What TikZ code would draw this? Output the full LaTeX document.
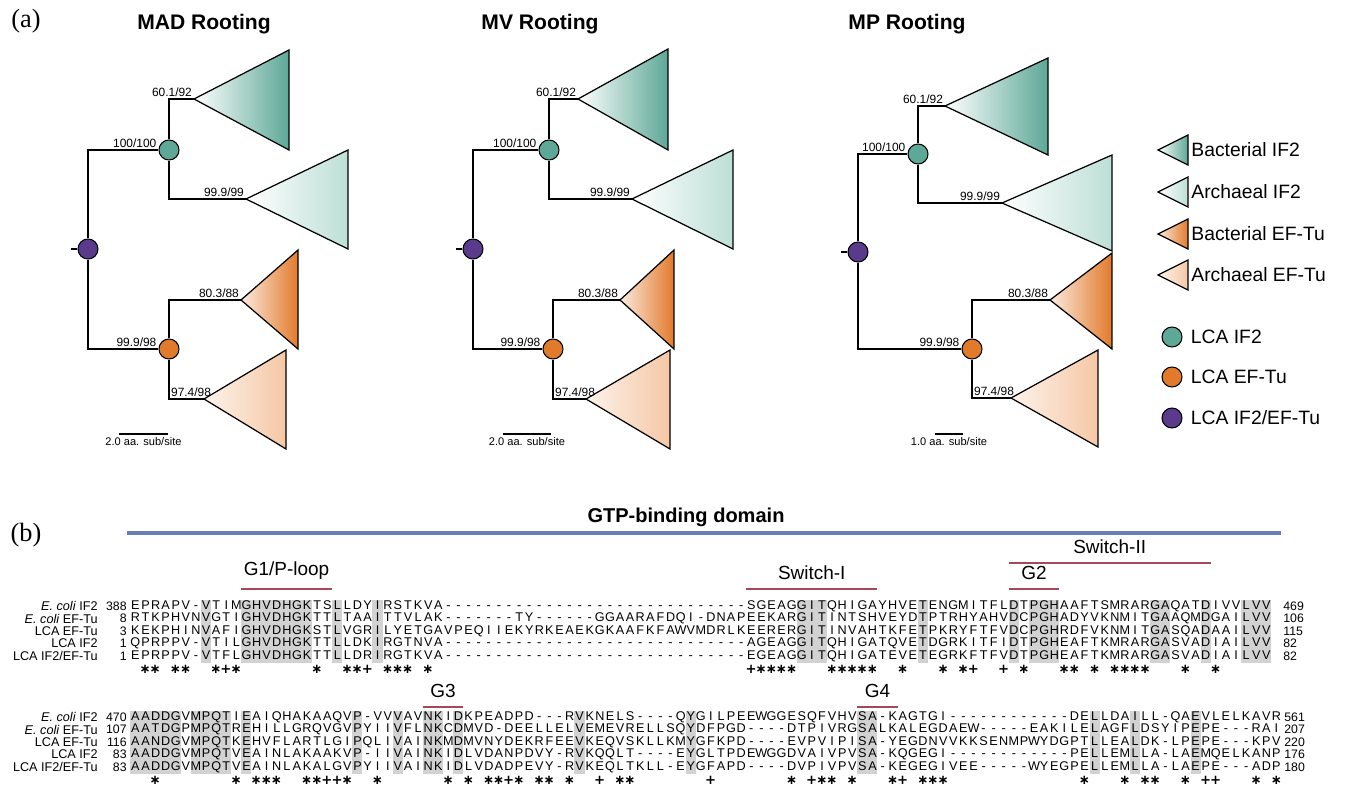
\documentclass[tikz,border=0pt]{standalone}
\usepackage{fontspec}
\setmainfont{Liberation Sans}
\newfontfamily\panelfont{Liberation Serif}
\newfontfamily\markfont{DejaVu Sans}
\usetikzlibrary{positioning}

\definecolor{bacif}{HTML}{5DA897}
\definecolor{arcif}{HTML}{BDDFD6}
\definecolor{bacef}{HTML}{E27A2C}
\definecolor{bacefl}{HTML}{FBEBDF}
\definecolor{arcef}{HTML}{F5C7A5}
\definecolor{arcefl}{HTML}{FDF3EB}
\definecolor{lcapurple}{HTML}{5A3B8B}
\definecolor{domblue}{HTML}{6A7DB4}
\definecolor{motifred}{HTML}{A8465A}
\definecolor{consgray}{HTML}{D2D2D2}

% one residue per fixed-width column
\makeatletter
\newcommand\colw{0.202cm}
\def\seqrow#1{\expandafter\sq@go#1\relax}
\def\sq@go#1{\ifx\relax#1\else\makebox[\colw]{#1}\expandafter\sq@go\fi}
\makeatother

\tikzset{
  branch/.style={line width=0.7pt},
  lcanode/.style={circle, draw, line width=0.6pt, minimum size=0.4cm, inner sep=0pt},
  suplab/.style={font=\fontsize{6.8}{8}\selectfont, inner sep=1pt},
  clade/.style={draw, line width=0.7pt},
  bacifcl/.style={clade, left color=white, right color=bacif},
  arcifcl/.style={clade, left color=white, right color=arcif},
  bacefcl/.style={clade, left color=bacefl, right color=bacef},
  arcefcl/.style={clade, left color=arcefl, right color=arcef},
  ttl/.style={font=\bfseries\fontsize{12}{14}\selectfont},
  panel/.style={font=\panelfont\fontsize{15}{17}\selectfont},
  sbar/.style={font=\fontsize{6.3}{7}\selectfont, inner sep=1pt, below},
  legtxt/.style={font=\fontsize{11}{13}\selectfont, anchor=west, inner sep=0pt},
  seqlab/.style={font=\fontsize{7.2}{8}\selectfont, anchor=east, inner sep=0pt},
  seqnum/.style={font=\fontsize{7}{8}\selectfont, anchor=east, inner sep=0pt},
  endnum/.style={font=\fontsize{7}{8}\selectfont, anchor=west, inner sep=0pt},
  seqtxt/.style={font=\fontsize{7.2}{8}\selectfont, anchor=west, inner sep=0pt},
  mk/.style={font=\fontsize{7.5}{8}\selectfont\markfont\bfseries, inner sep=0pt},
  motif/.style={motifred, line width=1.7pt},
  motiflab/.style={font=\fontsize{10.8}{12}\selectfont, inner sep=0pt, above=5pt},
}

\begin{document}
\begin{tikzpicture}[x=0.02cm, y=-0.02cm]
\useasboundingbox (0,0) rectangle (1346,804);

% ---------- (a) trees ----------
\node[panel] (pa) at (26,21) {(a)};
\node[ttl] (t1) at (204,24) {MAD Rooting};
\node[ttl] (t2) at (540,24) {MV Rooting};
\node[ttl] (t3) at (907,24) {MP Rooting};

% MAD
\coordinate (madbi) at (194,99);
\coordinate (madai) at (246,199);
\coordinate (madbe) at (241,300);
\coordinate (madae) at (204,399);
\path[bacifcl] (madbi) -- (289,50) -- (289,150) -- cycle;
\path[arcifcl] (madai) -- (348,150) -- (348,249) -- cycle;
\path[bacefcl] (madbe) -- (298,250) -- (298,349) -- cycle;
\path[arcefcl] (madae) -- (286,350) -- (286,449) -- cycle;
\node[lcanode, fill=lcapurple] (madroot) at (88,249) {};
\node[lcanode, fill=bacif] (madif) at (169,150) {};
\node[lcanode, fill=bacef] (madef) at (169,349) {};
\draw[branch] (madroot) |- (madif);
\draw[branch] (madroot) |- (madef);
\draw[branch] (madif) |- (madbi);
\draw[branch] (madif) |- (madai);
\draw[branch] (madef) |- (madbe);
\draw[branch] (madef) |- (madae);
\draw[branch] (madroot.west) -- ++(-6,0);
\node[suplab, above left] (mads0) at (madif.west) {100/100};
\node[suplab, above left] (mads1) at (madbi) {60.1/92};
\node[suplab, above left] (mads2) at (madai) {99.9/99};
\node[suplab, above left] (mads3) at (madef.west) {99.9/98};
\node[suplab, above left] (mads4) at (madbe) {80.3/88};
\node[suplab, above right] (mads5) at (169,399) {97.4/98};
\coordinate (madsb1) at (119,434);
\coordinate (madsb2) at (168,434);
\draw[branch] (madsb1) -- (madsb2);
\node[sbar] (madsbt) at (143.5,435) {2.0 aa. sub/site};

% MV
\coordinate (mvbi) at (578,99);
\coordinate (mvai) at (632,199);
\coordinate (mvbe) at (620,300);
\coordinate (mvae) at (586,399);
\path[bacifcl] (mvbi) -- (668,49) -- (668,150) -- cycle;
\path[arcifcl] (mvai) -- (733,150) -- (733,249) -- cycle;
\path[bacefcl] (mvbe) -- (674,250) -- (674,349) -- cycle;
\path[arcefcl] (mvae) -- (670,350) -- (670,449) -- cycle;
\node[lcanode, fill=lcapurple] (mvroot) at (473,249) {};
\node[lcanode, fill=bacif] (mvif) at (549,150) {};
\node[lcanode, fill=bacef] (mvef) at (553,349) {};
\draw[branch] (mvroot) |- (mvif);
\draw[branch] (mvroot) |- (mvef);
\draw[branch] (mvif) |- (mvbi);
\draw[branch] (mvif) |- (mvai);
\draw[branch] (mvef) |- (mvbe);
\draw[branch] (mvef) |- (mvae);
\draw[branch] (mvroot.west) -- ++(-6,0);
\node[suplab, above left] (mvs0) at (mvif.west) {100/100};
\node[suplab, above left] (mvs1) at (mvbi) {60.1/92};
\node[suplab, above left] (mvs2) at (mvai) {99.9/99};
\node[suplab, above left] (mvs3) at (mvef.west) {99.9/98};
\node[suplab, above left] (mvs4) at (mvbe) {80.3/88};
\node[suplab, above right] (mvs5) at (553,399) {97.4/98};
\coordinate (mvsb1) at (503,434);
\coordinate (mvsb2) at (551,434);
\draw[branch] (mvsb1) -- (mvsb2);
\node[sbar] (mvsbt) at (527,435) {2.0 aa. sub/site};

% MP
\coordinate (mpbi) at (945,106);
\coordinate (mpai) at (1002,203);
\coordinate (mpbe) at (1050,300);
\coordinate (mpae) at (1011,398);
\path[bacifcl] (mpbi) -- (1048,58) -- (1048,155) -- cycle;
\path[arcifcl] (mpai) -- (1112,155) -- (1112,251) -- cycle;
\path[bacefcl] (mpbe) -- (1112,253) -- (1112,349) -- cycle;
\path[arcefcl] (mpae) -- (1098,350) -- (1098,447) -- cycle;
\node[lcanode, fill=lcapurple] (mproot) at (858,252) {};
\node[lcanode, fill=bacif] (mpif) at (918,154) {};
\node[lcanode, fill=bacef] (mpef) at (972,349) {};
\draw[branch] (mproot) |- (mpif);
\draw[branch] (mproot) |- (mpef);
\draw[branch] (mpif) |- (mpbi);
\draw[branch] (mpif) |- (mpai);
\draw[branch] (mpef) |- (mpbe);
\draw[branch] (mpef) |- (mpae);
\draw[branch] (mproot.west) -- ++(-6,0);
\node[suplab, above left] (mps0) at (mpif.west) {100/100};
\node[suplab, above left] (mps1) at (mpbi) {60.1/92};
\node[suplab, above left] (mps2) at (mpai) {99.9/99};
\node[suplab, above left] (mps3) at (mpef.west) {99.9/98};
\node[suplab, above left] (mps4) at (mpbe) {80.3/88};
\node[suplab, above right] (mps5) at (972,398) {97.4/98};
\coordinate (mpsb1) at (935,434);
\coordinate (mpsb2) at (963,434);
\draw[branch] (mpsb1) -- (mpsb2);
\node[sbar] (mpsbt) at (949,435) {1.0 aa. sub/site};

% legend
\foreach \y/\st/\txt [count=\i] in {150/bacifcl/Bacterial IF2, 192/arcifcl/Archaeal IF2,
    234/bacefcl/Bacterial EF-Tu, 275/arcefcl/Archaeal EF-Tu} {
  \path[\st] (1158,\y) -- (1188,\y-15) -- (1188,\y+15) -- cycle;
  \node[legtxt] (legt\i) at (1191,\y) {\txt};
}
\foreach \y/\col/\txt [count=\i] in {337/bacif/{LCA IF2}, 377/bacef/{LCA EF-Tu}, 418/lcapurple/{LCA IF2/EF-Tu}} {
  \node[lcanode, fill=\col] (legc\i) at (1172,\y) {};
  \node[legtxt, right=0.16cm of legc\i] (legl\i) {\txt};
}

% ---------- (b) alignment ----------
\node[panel] (pb) at (26,535) {(b)};
\node[font=\bfseries\fontsize{11.4}{13}\selectfont] (dom) at (686,517) {GTP-binding domain};
\draw[domblue, line width=2.3pt] (127,533) -- (1281,533);

% motif bars (column ranges)
\foreach \a/\b/\yb/\txt [count=\i] in {12/20/589/G1\slash P-loop, 62/74/589/Switch-I, 88/107/563/Switch-II,
    88/92/589/G2, 30/33/707/G3, 73/76/707/G4} {
  \draw[motif] ({130+(\a-1)*10.1},\yb) -- ({130+\b*10.1},\yb);
  \node[motiflab] (mot\i) at ({130+(\a-1+\b)*5.05},\yb) {\txt};
}

% conserved columns
\foreach \c in {8,12,13,14,15,16,17,18,21,25,67,68,69,79,88,90,91,92,102,103,107,111,112,113}
  \fill[consgray] ({130+(\c-1)*10.1},599.5) rectangle ++(10.1,63);
\foreach \c in {1,2,3,4,5,7,8,9,10,12,23,27,30,31,33,45,56,73,74,96,100,106}
  \fill[consgray] ({130+(\c-1)*10.1},710.5) rectangle ++(10.1,63);

% block 1
\foreach \lab/\st/\sq/\en [count=\i] in {
  {\textit{E. coli} IF2}/388/EPRAPV-VTIMGHVDHGKTSLLDYIRSTKVA------------------------------SGEAGGITQHIGAYHVETENGMITFLDTPGHAAFTSMRARGAQATDIVVLVV/469,
  {\textit{E. coli} EF-Tu}/8/RTKPHVNVGTIGHVDHGKTTLTAAITTVLAK-------TY------GGAARAFDQI-DNAPEEKARGITINTSHVEYDTPTRHYAHVDCPGHADYVKNMITGAAQMDGAILVV/106,
  {LCA EF-Tu}/3/KEKPHINVAFIGHVDHGKSTLVGRILYETGAVPEQIIEKYRKEAEKGKAAFKFAWVMDRLKEERERGITINVAHTKFETPKRYFTFVDCPGHRDFVKNMITGASQADAAILVV/115,
  {LCA IF2}/1/QPRPPV-VTILGHVDHGKTTLLDKIRGTNVA------------------------------AGEAGGITQHIGATQVETDGRKITFIDTPGHEAFTKMRARGASVADIAILVV/82,
  {LCA IF2/EF-Tu}/1/EPRPPV-VTFLGHVDHGKTTLLDRIRGTKVA------------------------------EGEAGGITQHIGATEVETEGRKFTFVDTPGHEAFTKMRARGASVADIAILVV/82} {
  \node[seqlab] (la\i) at (98,{606+12.5*(\i-1)}) {\lab};
  \node[seqnum] (sa\i) at (127,{606+12.5*(\i-1)}) {\st};
  \node[seqtxt] (qa\i) at (130,{606+12.5*(\i-1)}) {\seqrow{\sq}};
  \node[endnum] (ea\i) at (1283,{606+12.5*(\i-1)}) {\en};
}
\foreach \c in {2,3,5,6,9,11,19,22,23,26,27,28,30,63,64,65,66,70,71,72,73,74,77,81,83,89,93,94,96,98,99,100,101,105,108}
  \node[mk] (ka\c) at ({130+(\c-0.5)*10.1},669) {∗};
\foreach \c in {10,24,62,84,87}
  \node[mk] (ra\c) at ({130+(\c-0.5)*10.1},669) {+};

% block 2
\foreach \lab/\st/\sq/\en [count=\i] in {
  {\textit{E. coli} IF2}/470/AADDGVMPQTIEAIQHAKAAQVP-VVVAVNKIDKPEADPD---RVKNELS----QYGILPEEWGGESQFVHVSA-KAGTGI------------DELLDAILL-QAEVLELKAVR/561,
  {\textit{E. coli} EF-Tu}/107/AATDGPMPQTREHILLGRQVGVPYIIVFLNKCDMVD-DEELLELVEMEVRELLSQYDFPGD----DTPIVRGSALKALEGDAEW-----EAKILELAGFLDSYIPEPE---RAI/207,
  {LCA EF-Tu}/116/AANDGVMPQTKEHVFLARTLGIPQLIVAINKMDMVNYDEKRFEEVKEQVSKLLKMYGFKPD----EVPVIPISA-YEGDNVVKKSENMPWYDGPTLLEALDK-LPEPE---KPV/220,
  {LCA IF2}/83/AADDGVMPQTVEAINLAKAAKVP-IIVAINKIDLVDANPDVY-RVKQQLT----EYGLTPDEWGGDVAIVPVSA-KQGEGI------------PELLEMLLA-LAEMQELKANP/176,
  {LCA IF2/EF-Tu}/83/AADDGVMPQTVEAINLAKALGVPYIIVAINKIDLVDADPEVY-RVKEQLTKLL-EYGFAPD----DVPIVPVSA-KEGEGIVEE-----WYEGPELLEMLLA-LAEPE---ADP/180} {
  \node[seqlab] (lb\i) at (98,{717+12.5*(\i-1)}) {\lab};
  \node[seqnum] (sb\i) at (127,{717+12.5*(\i-1)}) {\st};
  \node[seqtxt] (qb\i) at (130,{717+12.5*(\i-1)}) {\seqrow{\sq}};
  \node[endnum] (eb\i) at (1284,{717+12.5*(\i-1)}) {\en};
}
\foreach \c in {3,11,13,14,15,18,19,22,25,32,34,36,37,39,41,42,44,49,50,66,69,70,72,76,79,80,81,95,99,101,102,105,112,114}
  \node[mk] (kb\c) at ({130+(\c-0.5)*10.1},780) {∗};
\foreach \c in {20,21,38,47,58,68,77,107,108}
  \node[mk] (rb\c) at ({130+(\c-0.5)*10.1},780) {+};
\end{tikzpicture}
\end{document}
